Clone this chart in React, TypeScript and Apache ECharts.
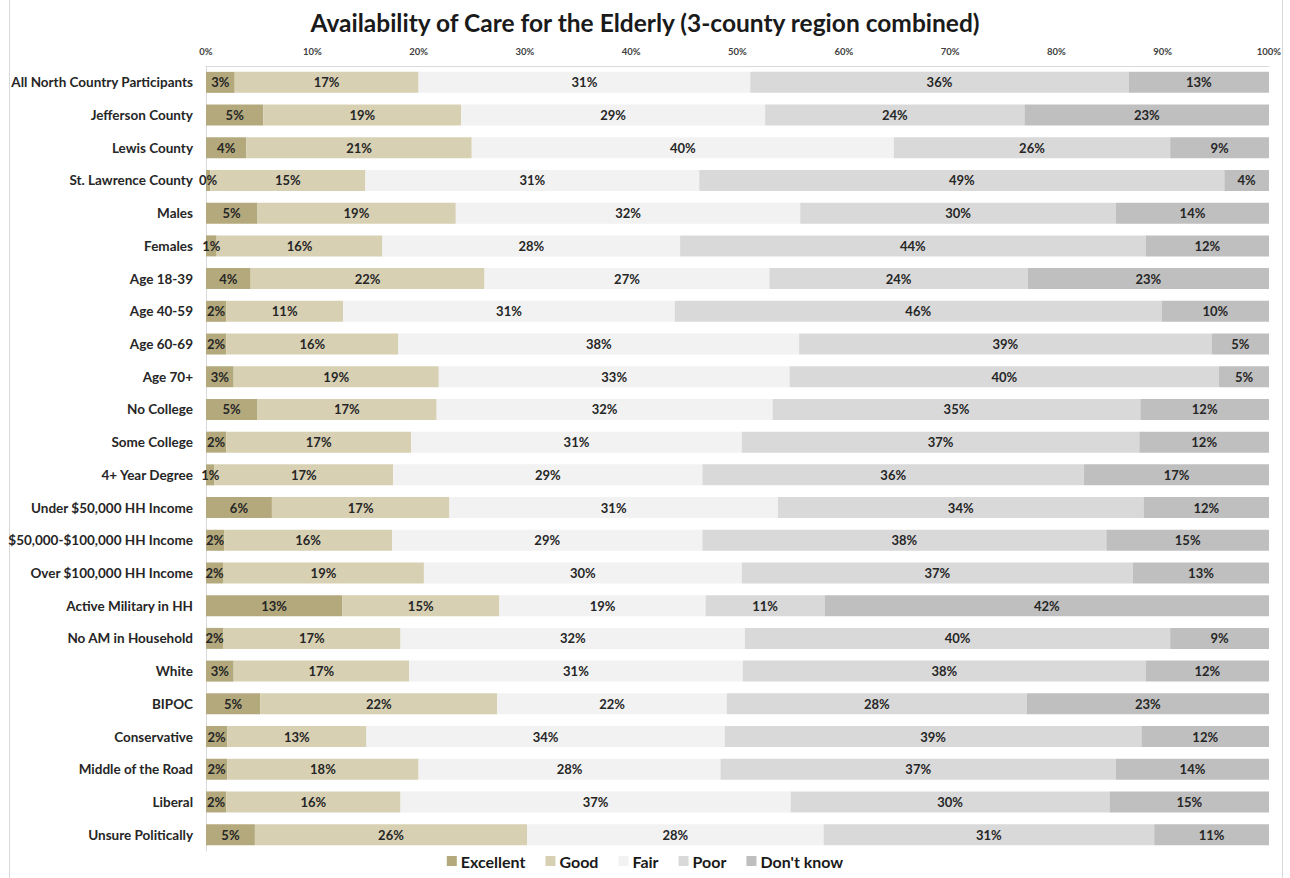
import React, { useEffect, useRef } from "react";
import * as echarts from "echarts";

const categories = [
  "All North Country Participants",
  "Jefferson County",
  "Lewis County",
  "St. Lawrence County",
  "Males",
  "Females",
  "Age 18-39",
  "Age 40-59",
  "Age 60-69",
  "Age 70+",
  "No College",
  "Some College",
  "4+ Year Degree",
  "Under $50,000 HH Income",
  "$50,000-$100,000 HH Income",
  "Over $100,000 HH Income",
  "Active Military in HH",
  "No AM in Household",
  "White",
  "BIPOC",
  "Conservative",
  "Middle of the Road",
  "Liberal",
  "Unsure Politically",
];

const excellent = [2.7, 5.4, 3.8, 0.4, 4.8, 1.0, 4.2, 1.9, 1.9, 2.6, 4.8, 1.9, 0.8, 6.2, 1.7, 1.6, 12.8, 1.6, 2.6, 5.1, 2.0, 2.0, 1.9, 4.6];
const good = [17.3, 18.6, 21.2, 14.6, 18.7, 15.6, 22.0, 11.0, 16.2, 19.3, 16.9, 17.4, 16.8, 16.7, 15.8, 18.9, 14.8, 16.7, 16.5, 22.3, 13.1, 18.0, 16.4, 25.6];
const fair = [31.2, 28.6, 39.7, 31.4, 32.4, 28.0, 26.8, 31.2, 37.7, 33.0, 31.6, 31.1, 29.1, 30.9, 29.2, 29.9, 19.4, 32.4, 31.4, 21.6, 33.7, 28.4, 36.7, 27.9];
const poor = [35.6, 24.4, 26.0, 49.4, 29.7, 43.8, 24.3, 45.8, 38.8, 40.4, 34.6, 37.4, 35.9, 34.4, 38.0, 36.8, 11.2, 40.0, 37.9, 28.2, 39.2, 37.2, 30.0, 31.1];
const dontKnow = [13.2, 23.0, 9.3, 4.2, 14.4, 11.6, 22.7, 10.1, 5.4, 4.7, 12.1, 12.2, 17.4, 11.8, 15.3, 12.8, 41.8, 9.3, 11.6, 22.8, 12.0, 14.4, 15.0, 10.8];

const seriesNames = ["Excellent", "Good", "Fair", "Poor", "Don't know"];
const seriesData = [excellent, good, fair, poor, dontKnow];
const colors = ["#b3a97c", "#d7d0b3", "#f2f2f2", "#d9d9d9", "#bfbfbf"];

const FONT = "Lato, 'Open Sans', sans-serif";

export default function App() {
  const ref = useRef<HTMLDivElement>(null);
  useEffect(() => {
    if (!ref.current) return;
    const chart = echarts.init(ref.current, null, { renderer: "svg" });
    chart.setOption({
      animation: false,
      backgroundColor: "#ffffff",
      textStyle: { fontFamily: FONT },
      title: {
        text: "Availability of Care for the Elderly (3-county region combined)",
        left: "center",
        top: 5,
        textStyle: { fontFamily: FONT, fontSize: 24.5, fontWeight: "bold", color: "#1a1a1a" },
      },
      legend: {
        data: seriesNames,
        bottom: 4,
        left: "center",
        itemWidth: 10,
        itemHeight: 10,
        itemGap: 20,
        icon: "rect",
        textStyle: { fontFamily: FONT, fontSize: 16, fontWeight: "bold", color: "#1a1a1a", padding: [0, 0, 0, -1] },
      },
      grid: { left: 206, right: 21, top: 66, bottom: 27, containLabel: false },
      xAxis: {
        type: "value",
        position: "top",
        min: 0,
        max: 100,
        interval: 10,
        axisLine: { show: true, lineStyle: { color: "#d9d9d9", width: 1 } },
        axisTick: { show: false },
        splitLine: { show: false },
        axisLabel: {
          formatter: "{value}%",
          fontFamily: FONT,
          fontSize: 9.5,
          fontWeight: "bold",
          color: "#404040",
          margin: 10,
        },
      },
      yAxis: {
        type: "category",
        data: categories,
        inverse: true,
        axisLine: { show: true, lineStyle: { color: "#d9d9d9", width: 1 } },
        axisTick: { show: false },
        axisLabel: {
          fontFamily: FONT,
          fontSize: 13.5,
          fontWeight: "bold",
          color: "#262626",
          margin: 13,
        },
      },
      series: seriesNames.map((name, i) => ({
        name,
        type: "bar",
        stack: "total",
        data: seriesData[i],
        barWidth: 21,
        itemStyle: { color: colors[i] },
        label: {
          show: true,
          position: "inside",
          formatter: (p: any) => Math.round(p.value) + "%",
          fontFamily: FONT,
          fontSize: 13,
          fontWeight: "bold",
          color: "#262626",
        },
      })),
      graphic: [
        { type: "line", shape: { x1: 9.5, y1: 0, x2: 9.5, y2: 878 }, style: { stroke: "#d9d9d9", lineWidth: 1 } },
        { type: "line", shape: { x1: 1282.5, y1: 0, x2: 1282.5, y2: 878 }, style: { stroke: "#d9d9d9", lineWidth: 1 } },
      ],
    });
    return () => chart.dispose();
  }, []);
  return <div ref={ref} style={{ width: 1290, height: 878, position: "absolute", left: 0, top: 0 }} />;
}
